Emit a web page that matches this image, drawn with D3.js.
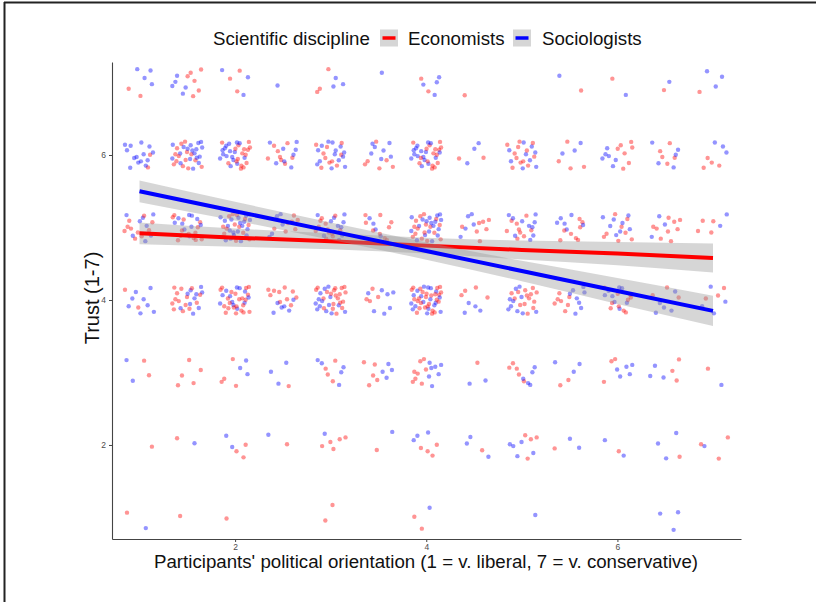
<!DOCTYPE html>
<html>
<head>
<meta charset="utf-8">
<script src="https://cdn.jsdelivr.net/npm/d3@7"></script>
<style>
  body { margin: 0; background: #fff; }
  svg { display: block; font-family: "Liberation Sans", Arial, sans-serif; }
</style>
</head>
<body>
<div id="chart"></div>
<script>
// jittered scatter of trust vs political orientation, with linear fits per discipline

const xLevels = [1, 1.5, 2, 2.5, 3, 3.5, 4, 4.5, 5, 5.5, 6, 6.5, 7];
const yLevels = [1, 2, 3, 4, 5, 6, 7];

// counts per cell, one row per y level (1..7), one column per x level
const econCounts = [
  [1, 1, 1, 0, 2, 0, 2, 0, 0, 0, 0, 0, 0],
  [1, 1, 3, 1, 5, 1, 4, 1, 4, 1, 1, 1, 3],
  [2, 5, 4, 1, 4, 5, 8, 1, 5, 2, 3, 3, 1],
  [2, 14, 22, 10, 20, 4, 26, 4, 14, 7, 10, 3, 3],
  [10, 14, 14, 7, 12, 9, 16, 7, 9, 8, 8, 9, 4],
  [2, 14, 16, 8, 10, 6, 16, 2, 12, 4, 7, 5, 4],
  [2, 6, 3, 0, 3, 0, 2, 1, 0, 1, 1, 1, 1]
];
const socCounts = [
  [1, 0, 0, 0, 0, 0, 1, 0, 1, 0, 0, 3, 0],
  [0, 1, 2, 1, 1, 1, 3, 3, 5, 2, 2, 3, 1],
  [2, 0, 3, 3, 5, 4, 7, 2, 5, 3, 5, 3, 1],
  [8, 10, 12, 6, 14, 7, 18, 4, 10, 8, 8, 5, 4],
  [8, 10, 20, 5, 10, 4, 18, 5, 10, 6, 8, 3, 2],
  [14, 18, 16, 8, 14, 7, 16, 3, 9, 3, 6, 5, 3],
  [4, 5, 3, 1, 3, 1, 4, 0, 0, 1, 1, 1, 3]
];

// hand-typed jitter pattern (unit offsets)
const jitterOffsets = [
  [-0.82, 0.35], [0.41, -0.77], [0.12, 0.91], [-0.35, -0.22], [0.88, 0.18],
  [-0.61, -0.93], [0.65, 0.62], [-0.08, -0.55], [0.27, 0.05], [-0.95, 0.74],
  [0.53, -0.38], [-0.24, 0.58], [0.94, -0.86], [-0.47, 0.11], [0.06, -0.97],
  [0.72, 0.87], [-0.71, -0.45], [0.33, 0.33], [-0.15, 0.97], [0.81, -0.12],
  [-0.88, -0.68], [0.18, -0.29], [-0.39, 0.82], [0.59, 0.42], [-0.02, 0.22],
  [0.97, 0.55], [-0.56, -0.08], [0.38, -0.99], [-0.78, 0.05], [0.22, 0.71],
  [-0.29, -0.81], [0.75, -0.58], [-0.67, 0.49], [0.47, 0.12], [-0.11, -0.36],
  [0.90, 0.95], [-0.98, -0.25], [0.02, 0.45], [0.62, -0.20], [-0.44, -0.60],
  [0.30, 0.86], [-0.85, 0.90], [0.14, -0.64], [0.84, 0.38], [-0.33, 0.28],
  [0.55, -0.90], [-0.19, -0.15], [0.69, 0.02], [-0.58, 0.67], [0.09, -0.46]
];

// fitted lines and 95% band half-widths at x = 1..7
const fitX = [1, 2, 3, 4, 5, 6, 7];
const econFit = [4.92, 4.86, 4.81, 4.75, 4.69, 4.64, 4.58];
const econHalf = [0.15, 0.125, 0.11, 0.11, 0.13, 0.16, 0.20];
const socFit = [5.50, 5.225, 4.95, 4.675, 4.40, 4.125, 3.85];
const socHalf = [0.15, 0.13, 0.12, 0.12, 0.14, 0.18, 0.21];

const xTicks = [2, 4, 6];
const yTicks = [2, 4, 6];
const groups = ['Economists', 'Sociologists'];
const groupColors = ['#ff0000', '#0000ff'];

const width = 816, height = 602;
const plot = { left: 112, right: 741, top: 62, bottom: 539 };

const svg = d3.select('#chart').append('svg')
  .attr('width', width)
  .attr('height', height);

svg.append('rect').attr('width', width).attr('height', height).attr('fill', '#fff');

// frame edges of the screenshot
svg.append('line').attr('x1', 4.5).attr('x2', 4.5).attr('y1', 2).attr('y2', height)
  .attr('stroke', '#222').attr('stroke-width', 2);
svg.append('line').attr('x1', 4).attr('x2', width).attr('y1', 2.5).attr('y2', 2.5)
  .attr('stroke', '#222').attr('stroke-width', 2);

const x = d3.scaleLinear().domain([0.712, 7.293]).range([plot.left, plot.right]);
const y = d3.scaleLinear().domain([0.703, 7.283]).range([plot.bottom, plot.top]);

// build jittered points, economists and sociologists interleaved per cell
const points = [];
yLevels.forEach((yv, yi) => {
  xLevels.forEach((xv, xi) => {
    const ne = econCounts[yi][xi], ns = socCounts[yi][xi];
    const cell = yi * xLevels.length + xi;
    let k = 0, e = 0, s = 0;
    while (e < ne || s < ns) {
      const takeEcon = (k % 2 === 0 && e < ne) || s >= ns;
      const off = jitterOffsets[(k + cell * 13) % jitterOffsets.length];
      points.push({ x: xv, y: yv, dx: off[0], dy: off[1], g: takeEcon ? 0 : 1 });
      if (takeEcon) e++; else s++;
      k++;
    }
  });
});

const jitterX = 0.16, jitterY = 0.19;

svg.append('g')
  .selectAll('circle')
  .data(points)
  .enter().append('circle')
  .attr('cx', d => x(d.x + d.dx * jitterX))
  .attr('cy', d => y(d.y + d.dy * jitterY))
  .attr('r', 2.2)
  .attr('fill', d => groupColors[d.g])
  .attr('fill-opacity', 0.42);

// smooth: ribbon then line per group
const fits = [
  fitX.map((xv, i) => ({ x: xv, fit: econFit[i], h: econHalf[i] })),
  fitX.map((xv, i) => ({ x: xv, fit: socFit[i], h: socHalf[i] }))
];

const area = d3.area()
  .x(d => x(d.x))
  .y0(d => y(d.fit - d.h))
  .y1(d => y(d.fit + d.h))
  .curve(d3.curveMonotoneX);
const line = d3.line()
  .x(d => x(d.x))
  .y(d => y(d.fit));

fits.forEach((f, gi) => {
  svg.append('path').datum(f)
    .attr('d', area)
    .attr('fill', '#999999')
    .attr('fill-opacity', 0.4);
  svg.append('path').datum(f)
    .attr('d', line)
    .attr('fill', 'none')
    .attr('stroke', groupColors[gi])
    .attr('stroke-width', 4);
});

// axes
const xAxis = svg.append('g')
  .attr('transform', `translate(0,${plot.bottom})`)
  .call(d3.axisBottom(x).tickValues(xTicks).tickFormat(d3.format('d'))
    .tickSize(3).tickPadding(2).tickSizeOuter(0));
const yAxis = svg.append('g')
  .attr('transform', `translate(${plot.left},0)`)
  .call(d3.axisLeft(y).tickValues(yTicks).tickFormat(d3.format('d'))
    .tickSize(3).tickPadding(3).tickSizeOuter(0));

[xAxis, yAxis].forEach(a => {
  a.select('.domain').attr('stroke', '#444').attr('stroke-width', 1.1);
  a.selectAll('.tick line').attr('stroke', '#444');
  a.selectAll('.tick text')
    .attr('fill', '#4d4d4d')
    .style('font-size', '8.5px')
    .style('font-family', '"Liberation Sans", Arial, sans-serif');
});

// axis titles
svg.append('text')
  .attr('x', 426)
  .attr('y', 568)
  .attr('text-anchor', 'middle')
  .attr('font-size', 18.7)
  .attr('fill', '#111')
  .text("Participants' political orientation (1 = v. liberal, 7 = v. conservative)");

svg.append('text')
  .attr('transform', 'translate(99,298) rotate(-90)')
  .attr('text-anchor', 'middle')
  .attr('font-size', 20)
  .attr('fill', '#111')
  .text('Trust (1-7)');

// legend
const legend = svg.append('g');
legend.append('text')
  .attr('x', 213).attr('y', 44.5)
  .attr('font-size', 18.7).attr('fill', '#111')
  .text('Scientific discipline');

const keyX = [380, 513];
const labelX = [408, 542];
groups.forEach((g, i) => {
  legend.append('rect')
    .attr('x', keyX[i]).attr('y', 29.5)
    .attr('width', 18).attr('height', 17)
    .attr('fill', '#999999').attr('fill-opacity', 0.4);
  legend.append('line')
    .attr('x1', keyX[i] + 2.5).attr('x2', keyX[i] + 15.5)
    .attr('y1', 38).attr('y2', 38)
    .attr('stroke', groupColors[i]).attr('stroke-width', 3.5);
  legend.append('text')
    .attr('x', labelX[i]).attr('y', 44.5)
    .attr('font-size', 18.7).attr('fill', '#111')
    .text(g);
});
</script>
</body>
</html>
